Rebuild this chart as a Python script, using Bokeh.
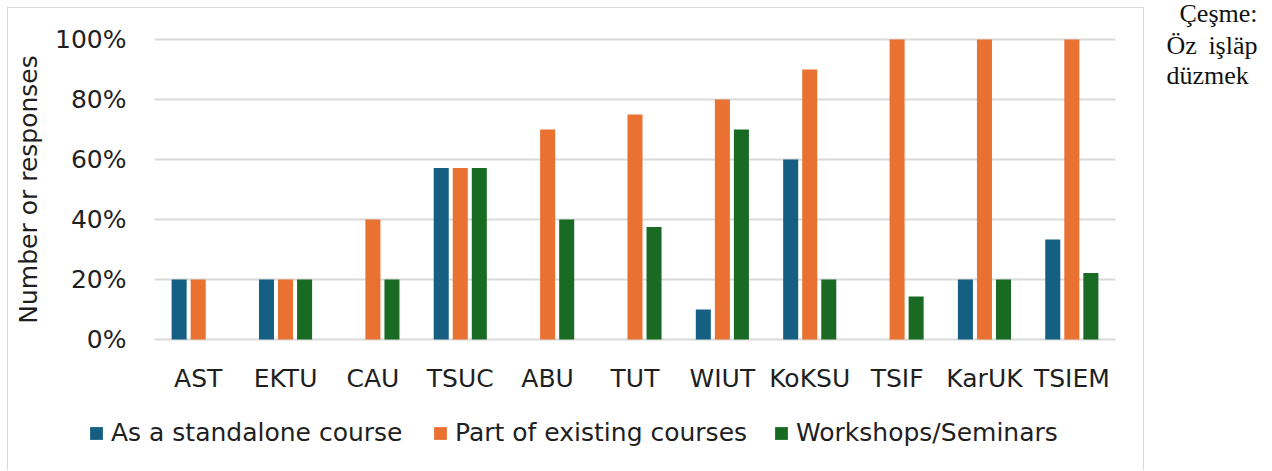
from bokeh.plotting import figure
from bokeh.models import (FactorRange, Range1d, FixedTicker, NumeralTickFormatter,
                          Legend, LegendItem, ColumnDataSource)
from bokeh.transform import dodge
from bokeh.layouts import row, column
from bokeh.embed import file_html
from bokeh.resources import INLINE
from bokeh.core.properties import value

categories = ["AST", "EKTU", "CAU", "TSUC", "ABU", "TUT", "WIUT", "KoKSU", "TSIF", "KarUK", "TSIEM"]
standalone = [0.20, 0.20, 0.0, 0.5714, 0.0, 0.0, 0.10, 0.60, 0.0, 0.20, 0.333]
existing = [0.20, 0.20, 0.40, 0.5714, 0.70, 0.75, 0.80, 0.90, 1.00, 1.00, 1.00]
workshops = [0.0, 0.20, 0.20, 0.5714, 0.40, 0.375, 0.70, 0.20, 0.143, 0.20, 0.222]
series_names = ["As a standalone course", "Part of existing courses", "Workshops/Seminars"]
series_colors = ["#156082", "#E97132", "#196B24"]
y_ticks = [0, 0.2, 0.4, 0.6, 0.8, 1.0]
y_title = "Number or responses"
source_lines = ["Çeşme:", "Öz", "işläp", "düzmek"]

FONT = "DejaVu Sans"
FS = "25px"
TXT = "#1f1f1f"
W = 1135

src = ColumnDataSource(dict(cat=categories, s=standalone, e=existing, w=workshops))

pad = 2 / 300
p = figure(x_range=FactorRange(*categories), y_range=Range1d(-pad, 1 + pad),
           width=W, height=392, output_backend="svg", toolbar_location=None,
           min_border_left=146, min_border_right=28, min_border_top=29, min_border_bottom=59)
p.outline_line_color = None
p.background_fill_color = "white"
p.border_fill_color = "white"

renderers = []
for field, off, col in zip(["s", "e", "w"], [-0.218, 0.0, 0.218], series_colors):
    r = p.vbar(x=dodge("cat", off, range=p.x_range), top=field, bottom=0, width=0.172,
               source=src, fill_color=col, line_color=None)
    renderers.append(r)

# axes
p.yaxis.ticker = FixedTicker(ticks=y_ticks)
p.yaxis.formatter = NumeralTickFormatter(format="0%")
for ax in (p.xaxis[0], p.yaxis[0]):
    ax.axis_line_color = None
    ax.major_tick_line_color = None
    ax.minor_tick_line_color = None
    ax.major_tick_out = 0
    ax.major_tick_in = 0
    ax.minor_tick_out = 0
    ax.major_label_text_font = FONT
    ax.major_label_text_font_size = FS
    ax.major_label_text_color = TXT
p.yaxis.major_label_standoff = 28
p.xaxis.major_label_standoff = 22
p.yaxis.axis_label = y_title
p.yaxis.axis_label_text_font = FONT
p.yaxis.axis_label_text_font_size = FS
p.yaxis.axis_label_text_font_style = "normal"
p.yaxis.axis_label_text_color = TXT
p.yaxis.axis_label_standoff = 9

p.xgrid.grid_line_color = None
p.ygrid.ticker = FixedTicker(ticks=y_ticks)
p.ygrid.grid_line_color = "#d9d9d9"
p.ygrid.grid_line_width = 2

# legend strip below the chart
lf = figure(width=W, height=70, x_range=Range1d(0, 1), y_range=Range1d(0, 1),
            output_backend="svg", toolbar_location=None, min_border=0)
lf.axis.visible = False
lf.grid.visible = False
lf.outline_line_color = None
legend_x = [80, 424, 765]
for name, col, lx in zip(series_names, series_colors, legend_x):
    # swatch-only renderer placed outside the visible range
    swatch = lf.vbar(x=[5], top=[1], width=0.1, fill_color=col, line_color=None)
    lg = Legend(items=[LegendItem(label=name, renderers=[swatch])], location=(lx, 23),
                orientation="horizontal", glyph_width=16, glyph_height=16,
                label_standoff=7, padding=0, margin=0, spacing=0,
                border_line_color=None, background_fill_alpha=0,
                label_text_font=FONT, label_text_font_size=FS, label_text_color=TXT)
    lf.add_layout(lg, "center")

chart = column(p, row(lf),
               styles={"margin-left": "7px", "margin-top": "7px",
                       "border-left": "1px solid #d9d9d9", "border-top": "1px solid #d9d9d9",
                       "border-right": "1px solid #d9d9d9"})

# source note
q = figure(width=118, height=462, x_range=Range1d(0, 118), y_range=Range1d(462, 0),
           output_backend="svg", toolbar_location=None, min_border=0)
q.axis.visible = False
q.grid.visible = False
q.outline_line_color = None
NOTE_FONT = value("Liberation Serif")
for txt, x, y, al in [(source_lines[0], 113, 13, "right"), (source_lines[1], 22, 45, "left"),
                      (source_lines[2], 113, 45, "right"), (source_lines[3], 22, 75, "left")]:
    q.text(x=[x], y=[y], text=[txt], text_font=NOTE_FONT, text_font_size="26px",
           text_align=al, text_baseline="alphabetic", text_color="#111111")

layout = row(chart, column(q))
open("out.html", "w").write(file_html(layout, INLINE))
